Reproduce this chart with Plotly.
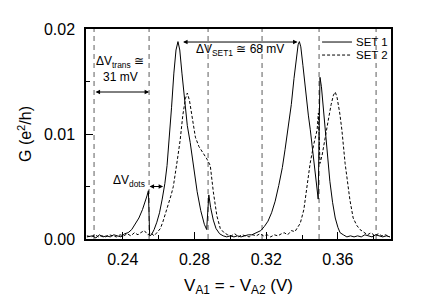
import plotly.graph_objects as go

# ---------------- data ----------------
set1_x = [0.2200, 0.2230, 0.2250, 0.2270, 0.2290, 0.2310, 0.2330, 0.2350, 0.2370, 0.2390,
          0.2410, 0.2430, 0.2450, 0.2470, 0.2490, 0.2510, 0.2525, 0.2535, 0.2543, 0.2547,
          0.2550, 0.2560, 0.2575, 0.2590, 0.2605, 0.2620, 0.2635, 0.2647, 0.2660, 0.2672,
          0.2685, 0.2697, 0.2708, 0.2718, 0.2730, 0.2745, 0.2760, 0.2776, 0.2795, 0.2815,
          0.2835, 0.2855, 0.2868, 0.2876, 0.2880, 0.2890, 0.2905, 0.2920, 0.2940, 0.2960,
          0.2980, 0.3000, 0.3020, 0.3040, 0.3060, 0.3080, 0.3100, 0.3120, 0.3150, 0.3170,
          0.3190, 0.3210, 0.3230, 0.3250, 0.3270, 0.3290, 0.3305, 0.3322, 0.3340, 0.3355,
          0.3368, 0.3378, 0.3385, 0.3393, 0.3405, 0.3420, 0.3435, 0.3446, 0.3460, 0.3475,
          0.3485, 0.3490, 0.3495, 0.3500, 0.3508, 0.3518, 0.3528, 0.3540, 0.3555, 0.3570,
          0.3585, 0.3600, 0.3612, 0.3630, 0.3650, 0.3670, 0.3690, 0.3710, 0.3730, 0.3750,
          0.3770, 0.3790, 0.3810, 0.3830, 0.3850, 0.3870, 0.3890]
set1_g = [0.0002, 0.0003, 0.0001, 0.0004, 0.0002, 0.0003, 0.0002, 0.0004, 0.0003, 0.0002,
          0.0005, 0.0006, 0.0009, 0.0014, 0.0020, 0.0028, 0.0035, 0.0041, 0.0046, 0.0012,
          0.0003, 0.0004, 0.0009, 0.0016, 0.0025, 0.0038, 0.0053, 0.0070, 0.0095, 0.0125,
          0.0158, 0.0180, 0.0188, 0.0180, 0.0158, 0.0130, 0.0108, 0.0092, 0.0068, 0.0045,
          0.0027, 0.0014, 0.0009, 0.0040, 0.0042, 0.0030, 0.0018, 0.0010, 0.0005, 0.0003,
          0.0002, 0.0003, 0.0002, 0.0003, 0.0002, 0.0003, 0.0004, 0.0004, 0.0006, 0.0008,
          0.0012, 0.0017, 0.0025, 0.0036, 0.0051, 0.0068, 0.0085, 0.0104, 0.0128, 0.0153,
          0.0173, 0.0185, 0.0188, 0.0183, 0.0165, 0.0140, 0.0118, 0.0104, 0.0083, 0.0058,
          0.0042, 0.0038, 0.0100, 0.0154, 0.0145, 0.0125, 0.0104, 0.0080, 0.0055, 0.0035,
          0.0020, 0.0011, 0.0006, 0.0004, 0.0002, 0.0003, 0.0002, 0.0003, 0.0002, 0.0004,
          0.0003, 0.0002, 0.0004, 0.0003, 0.0002, 0.0003, 0.0002]

set2_x = [0.2200, 0.2225, 0.2245, 0.2265, 0.2285, 0.2305, 0.2325, 0.2345, 0.2365, 0.2385,
          0.2405, 0.2425, 0.2445, 0.2465, 0.2485, 0.2500, 0.2520, 0.2540, 0.2555, 0.2575,
          0.2595, 0.2610, 0.2625, 0.2640, 0.2655, 0.2670, 0.2682, 0.2692, 0.2705, 0.2720,
          0.2735, 0.2750, 0.2760, 0.2772, 0.2790, 0.2805, 0.2825, 0.2850, 0.2870, 0.2888,
          0.2905, 0.2925, 0.2944, 0.2965, 0.2985, 0.3005, 0.3025, 0.3045, 0.3065, 0.3085,
          0.3105, 0.3125, 0.3145, 0.3165, 0.3185, 0.3205, 0.3225, 0.3245, 0.3265, 0.3285,
          0.3300, 0.3320, 0.3340, 0.3360, 0.3375, 0.3390, 0.3410, 0.3430, 0.3445, 0.3465,
          0.3484, 0.3491, 0.3495, 0.3500, 0.3512, 0.3528, 0.3545, 0.3562, 0.3575, 0.3585,
          0.3595, 0.3610, 0.3622, 0.3640, 0.3655, 0.3667, 0.3685, 0.3705, 0.3723, 0.3745,
          0.3765, 0.3785, 0.3805, 0.3825, 0.3845, 0.3865, 0.3890]
set2_g = [0.0003, 0.0002, 0.0004, 0.0002, 0.0003, 0.0002, 0.0004, 0.0003, 0.0002, 0.0004,
          0.0003, 0.0005, 0.0003, 0.0006, 0.0004, 0.0006, 0.0008, 0.0004, 0.0006, 0.0003,
          0.0007, 0.0010, 0.0017, 0.0025, 0.0033, 0.0042, 0.0050, 0.0060, 0.0076, 0.0094,
          0.0118, 0.0134, 0.0139, 0.0132, 0.0112, 0.0097, 0.0088, 0.0082, 0.0076, 0.0070,
          0.0045, 0.0022, 0.0010, 0.0006, 0.0004, 0.0003, 0.0005, 0.0002, 0.0004, 0.0003,
          0.0002, 0.0004, 0.0003, 0.0005, 0.0003, 0.0004, 0.0002, 0.0004, 0.0003, 0.0005,
          0.0006, 0.0004, 0.0008, 0.0007, 0.0011, 0.0015, 0.0028, 0.0052, 0.0072, 0.0090,
          0.0104, 0.0120, 0.0085, 0.0072, 0.0080, 0.0094, 0.0112, 0.0128, 0.0137, 0.0140,
          0.0135, 0.0120, 0.0104, 0.0072, 0.0050, 0.0037, 0.0020, 0.0013, 0.0009, 0.0006,
          0.0004, 0.0006, 0.0003, 0.0005, 0.0003, 0.0004, 0.0002]

transition_x = [0.2240, 0.2547, 0.2876, 0.3177, 0.3495, 0.3813]

x_ticks = [0.24, 0.28, 0.32, 0.36]
x_tick_labels = ["0.24", "0.28", "0.32", "0.36"]
y_ticks = [0.00, 0.01, 0.02]
y_tick_labels = ["0.00", "0.01", "0.02"]

FONT = "Liberation Sans, Arial, sans-serif"

fig = go.Figure()
fig.add_trace(go.Scatter(x=set1_x, y=set1_g, mode="lines", name="SET 1",
                         line=dict(color="black", width=1), showlegend=False))
fig.add_trace(go.Scatter(x=set2_x, y=set2_g, mode="lines", name="SET 2",
                         line=dict(color="black", width=1, dash="3px,2px"), showlegend=False))

# gray dashed transition lines
for xv in transition_x:
    fig.add_shape(type="line", xref="x", yref="paper", x0=xv, x1=xv, y0=0, y1=1,
                  line=dict(color="#9a9a9a", width=1.6, dash="5px,4px"), layer="below")

# manual legend
fig.add_shape(type="line", xref="paper", yref="paper", x0=0.774, x1=0.872, y0=0.938, y1=0.938,
              line=dict(color="black", width=1))
fig.add_shape(type="line", xref="paper", yref="paper", x0=0.774, x1=0.872, y0=0.876, y1=0.876,
              line=dict(color="black", width=1, dash="3px,2px"))
lfont = dict(size=11.5, color="black", family=FONT)
fig.add_annotation(xref="paper", yref="paper", x=0.878, y=0.938, text="SET 1", showarrow=False,
                   xanchor="left", yanchor="middle", font=lfont)
fig.add_annotation(xref="paper", yref="paper", x=0.878, y=0.876, text="SET 2", showarrow=False,
                   xanchor="left", yanchor="middle", font=lfont)

# double-headed arrows
def darrow(x0, x1, y):
    fig.add_annotation(x=x1, y=y, ax=x0, ay=y, xref="x", yref="y", axref="x", ayref="y",
                       text="", showarrow=True, arrowhead=2, arrowside="end+start",
                       arrowsize=0.9, arrowwidth=1, arrowcolor="black")

darrow(transition_x[0], transition_x[1], 0.0140)
darrow(0.2728, 0.3375, 0.01876)
darrow(0.2541, 0.2625, 0.0050)

afont = dict(size=12, color="black", family=FONT)
fig.add_annotation(x=0.2385, y=0.01686, text="ΔV<sub>trans</sub> ≅", showarrow=False, font=afont)
fig.add_annotation(x=0.2388, y=0.01543, text="31 mV", showarrow=False, font=afont)
fig.add_annotation(x=0.3055, y=0.0180, text="ΔV<sub>SET1</sub> ≅ 68 mV", showarrow=False, font=afont)
fig.add_annotation(x=0.2435, y=0.0055, text="ΔV<sub>dots</sub>", showarrow=False, font=afont)

fig.update_xaxes(range=[0.2195, 0.3896], tickvals=x_ticks, ticktext=x_tick_labels,
                 ticks="inside", ticklen=7, tickwidth=1, tickcolor="black",
                 minor=dict(dtick=0.02, tick0=0.22, ticks="inside", ticklen=4, tickcolor="black"),
                 showline=True, linecolor="black", linewidth=1.5, mirror=True,
                 showgrid=False, zeroline=False, ticklabelstandoff=5,
                 tickfont=dict(size=16, family=FONT, color="black"),
                 title=dict(text="V<sub>A1</sub> = - V<sub>A2</sub> (V)", standoff=12,
                            font=dict(size=17, family=FONT, color="black")))
fig.update_yaxes(range=[0, 0.02], tickvals=y_ticks, ticktext=y_tick_labels,
                 ticks="inside", ticklen=7, tickwidth=1, tickcolor="black",
                 minor=dict(dtick=0.005, tick0=0, ticks="inside", ticklen=4, tickcolor="black"),
                 showline=True, linecolor="black", linewidth=1.5, mirror=True,
                 showgrid=False, zeroline=False, ticklabelstandoff=6,
                 tickfont=dict(size=16, family=FONT, color="black"),
                 title=dict(text="G (e<sup>2</sup>/h)", standoff=8,
                            font=dict(size=16, family=FONT, color="black")))

# the page body adds an 8px offset; margins compensate so the plot box lands where the reference has it
fig.update_layout(width=436, height=301, margin=dict(l=78, r=53, t=21, b=70),
                  plot_bgcolor="white", paper_bgcolor="white", showlegend=False)

fig.write_html("out.html")
